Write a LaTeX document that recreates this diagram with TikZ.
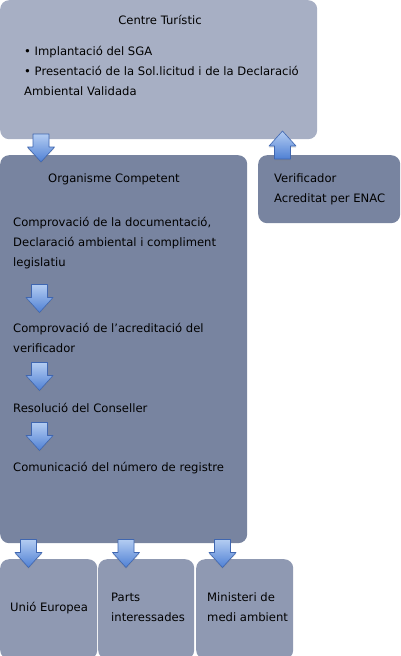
\documentclass[tikz,border=0pt]{standalone}
\usepackage{fontspec}
\setmainfont{DejaVu Sans}
\usetikzlibrary{shadows}

\definecolor{topbox}{HTML}{A7AFC4}
\definecolor{midbox}{HTML}{7884A0}
\definecolor{lowbox}{HTML}{8F99B2}
\definecolor{arrtop}{HTML}{B3CCF2}
\definecolor{arrbot}{HTML}{4F80D4}
\definecolor{arrline}{HTML}{3F66B0}

\tikzset{
  box/.style={fill=#1, rounded corners=9pt, inner sep=0pt, anchor=north west},
  txt/.style={anchor=base west, inner sep=0pt, font=\fontsize{11.6}{14}\selectfont},
  arrstyle/.style={draw=arrline, line width=0.6pt, line join=round, top color=arrtop, bottom color=arrbot,
    drop shadow={opacity=0.25, shadow xshift=0pt, shadow yshift=-1.5pt}},
  dnarr/.pic={\path[arrstyle] (-8,-14) -- (8,-14) -- (8,-1) -- (13.5,-1) -- (0,14) -- (-13.5,-1) -- (-8,-1) -- cycle;},
  uparr/.pic={\path[arrstyle] (-8,14) -- (8,14) -- (8,1) -- (13.5,1) -- (0,-14) -- (-13.5,1) -- (-8,1) -- cycle;}
}

\begin{document}
\begin{tikzpicture}[x=1pt,y=-1pt]
\useasboundingbox (0,0) rectangle (400,656);

% boxes
\node[box=topbox, minimum width=317pt, minimum height=139pt] (centre) at (0,0) {};
\node[box=midbox, minimum width=247pt, minimum height=388pt] (organ) at (0,155) {};
\node[box=midbox, minimum width=142pt, minimum height=68pt] (verif) at (258,155) {};
\node[box=lowbox, minimum width=97pt, minimum height=100pt] (ue) at (0,559) {};
\node[box=lowbox, minimum width=96pt, minimum height=100pt] (parts) at (98,559) {};
\node[box=lowbox, minimum width=97pt, minimum height=100pt] (minis) at (196,559) {};

% centre turistic
\node[txt, anchor=base] (ctitle) at (160,24.5) {Centre Turístic};
\node[txt] (c1) at (24,55) {\textbullet\ Implantació del SGA};
\node[txt] (c2) at (24,75) {\textbullet\ Presentació de la Sol.licitud i de la Declaració};
\node[txt] (c3) at (24,95) {Ambiental Validada};

% organisme competent
\node[txt] (otitle) at (48,182.5) {Organisme Competent};
\node[txt] (o1) at (13,226) {Comprovació de la documentació,};
\node[txt] (o2) at (13,246) {Declaració ambiental i compliment};
\node[txt] (o3) at (13,266) {legislatiu};
\node[txt] (o4) at (13,332.5) {Comprovació de l’acreditació del};
\node[txt] (o5) at (13,352.5) {verificador};
\node[txt] (o6) at (13,412.5) {Resolució del Conseller};
\node[txt] (o7) at (13,471.5) {Comunicació del número de registre};

% verificador
\node[txt] (v1) at (274,182.5) {Verificador};
\node[txt] (v2) at (274,202.5) {Acreditat per ENAC};

% destinataris
\node[txt] (ue1) at (10,611.5) {Unió Europea};
\node[txt] (p1) at (111,601.5) {Parts};
\node[txt] (p2) at (111,621.5) {interessades};
\node[txt] (m1) at (207,601.5) {Ministeri de};
\node[txt] (m2) at (207,621.5) {medi ambient};

% fletxes
\foreach \nm/\px/\py in {fa/41/148, fb/39.5/298.5, fc/39.5/376.5, fd/39.5/436.5, fe/28.5/553.5, ff/126/553.5, fg/222.5/553.5}
\pic (\nm) at (\px,\py) {dnarr};
\pic (fv) at (282.5,145) {uparr};

\end{tikzpicture}
\end{document}
